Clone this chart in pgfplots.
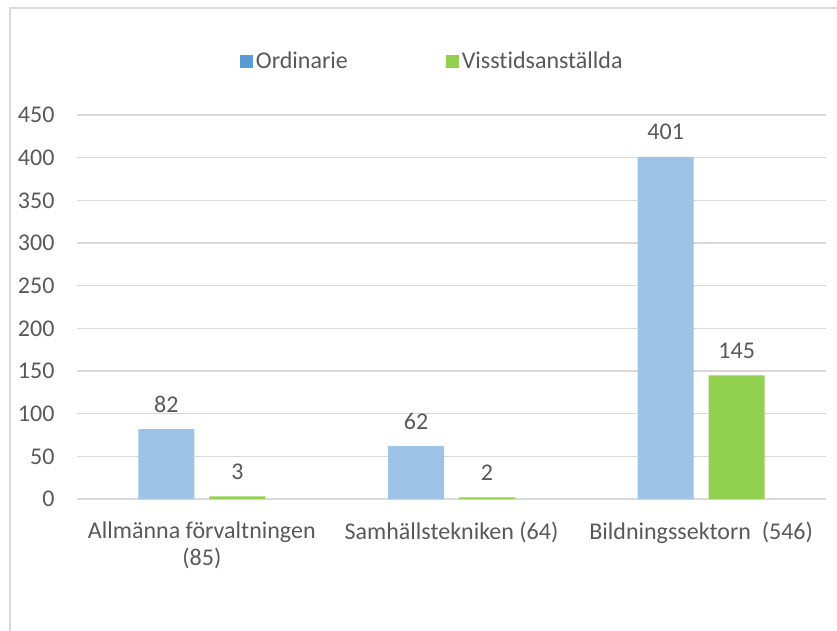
\documentclass[border=0pt]{standalone}
\usepackage{fontspec}
\setmainfont{Carlito}[Ligatures=NoCommon]
\usepackage{pgfplots}
\pgfplotsset{compat=1.18}
\definecolor{barblue}{HTML}{9DC3E6}
\definecolor{legblue}{HTML}{5B9BD5}
\definecolor{bargreen}{HTML}{92D050}
\definecolor{txtgray}{HTML}{595959}
\definecolor{gridgray}{HTML}{D9D9D9}
\newcommand{\chartfont}{\fontsize{24}{27}\selectfont}
\begin{document}
\begin{tikzpicture}
\path[use as bounding box] (0,0) rectangle (837pt,630pt);
\draw[gridgray, line width=2pt] (10pt,-20pt) -- (10pt,622pt) -- (860pt,622pt);
\begin{axis}[
    at={(77pt,131pt)}, anchor=south west,
    scale only axis,
    width=749pt, height=384pt,
    ybar=15pt, bar width=56pt,
    xmin=-0.5, xmax=2.5,
    ymin=0, ymax=450,
    ytick={0,50,...,450},
    xtick=data,
    xticklabels={{Allmänna förvaltningen\\(85)}, {Samhällstekniken (64)}, {Bildningssektorn\ \ (546)}},
    x tick label style={align=center, font=\chartfont, text=txtgray, yshift=-19pt},
    y tick label style={font=\chartfont, text=txtgray, xshift=-19pt},
    /pgf/number format/assume math mode=true,
    major tick length=0pt,
    axis x line*=bottom,
    axis y line*=left,
    x axis line style={gridgray, line width=1.5pt},
    y axis line style={draw=none},
    ymajorgrids, grid style={gridgray, line width=1.5pt},
    nodes near coords,
    nodes near coords style={font=\chartfont, text=txtgray, anchor=base, inner sep=0pt, yshift=17pt},
    legend style={at={(0.475,1.1406)}, anchor=center, draw=none, legend columns=2,
        font=\chartfont, text=txtgray,
        nodes={inner sep=2.5pt},
        /tikz/every even column/.append style={column sep=96pt}},
    legend cell align=left,
]
\addplot[fill=barblue, draw=none,
    legend image code/.code={\fill[legblue] (0pt,-6.5pt) rectangle (13pt,6.5pt);}]
    coordinates {(0,82) (1,62) (2,401)};
\addplot[fill=bargreen, draw=none,
    legend image code/.code={\fill[bargreen] (0pt,-6.5pt) rectangle (13pt,6.5pt);}]
    coordinates {(0,3) (1,2) (2,145)};
\legend{Ordinarie, Visstidsanställda}
\end{axis}
\end{tikzpicture}
\end{document}
